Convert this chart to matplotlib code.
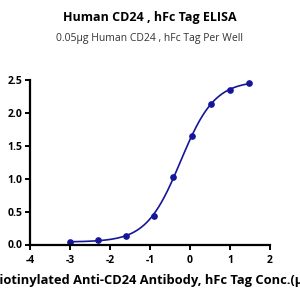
import numpy as np
import matplotlib
matplotlib.use("Agg")
import matplotlib.pyplot as plt

plt.rcParams['font.family'] = ['Open Sans', 'DejaVu Sans']
plt.rcParams['axes.unicode_minus'] = False

# log10 concentration vs OD
log_conc = [-3.0, -2.3, -1.6, -0.9, -0.43, 0.05, 0.52, 1.0, 1.48]
od = [0.045, 0.067, 0.13, 0.44, 1.02, 1.65, 2.13, 2.35, 2.46]

TITLE = "Human CD24 , hFc Tag ELISA"
SUBTITLE = "0.05\u00b5g Human CD24 , hFc Tag Per Well"
XLABEL = "Biotinylated Anti-CD24 Antibody, hFc Tag Conc.(\u00b5g/ml)"
YLABEL = "OD450"
COLOR = "#15159a"


def four_pl(x, p):
    bottom, top, logec50, hill = p
    return bottom + (top - bottom) / (1 + 10 ** ((logec50 - x) * hill))


# simple Gauss-Newton fit of a 4PL curve to the points
x = np.array(log_conc)
y = np.array(od)
p = np.array([0.04, 2.5, -0.3, 1.0])
for _ in range(200):
    r = y - four_pl(x, p)
    J = np.empty((len(x), 4))
    for i in range(4):
        dp = np.zeros(4)
        dp[i] = 1e-6
        J[:, i] = (four_pl(x, p + dp) - four_pl(x, p)) / 1e-6
    step = np.linalg.lstsq(J, r, rcond=None)[0]
    p = p + 0.5 * step

xs = np.linspace(min(log_conc), max(log_conc), 300)

fig = plt.figure(figsize=(3, 3), dpi=100)
ax = fig.add_axes([0.1, 0.185, 0.8, 0.548])
ax.plot(xs, four_pl(xs, p), color=COLOR, lw=1.2)
ax.plot(log_conc, od, 'o', color=COLOR, ms=3.8)

ax.set_xlim(-4, 2)
ax.set_ylim(0, 2.5)
ax.set_xticks([-4, -3, -2, -1, 0, 1, 2])
ax.set_yticks([0, 0.5, 1.0, 1.5, 2.0, 2.5])
ax.set_yticklabels(["0.0", "0.5", "1.0", "1.5", "2.0", "2.5"])
for s in ['top', 'right']:
    ax.spines[s].set_visible(False)
for s in ['left', 'bottom']:
    ax.spines[s].set_linewidth(1.6)
ax.tick_params(width=1.4, length=3.5, labelsize=7.5)
ax.tick_params(axis='x', pad=4)
ax.tick_params(axis='y', pad=2)
for lab in ax.get_xticklabels() + ax.get_yticklabels():
    lab.set_fontweight('bold')

ax.set_xlabel(XLABEL, fontsize=9.3, fontweight='bold')
ax.xaxis.set_label_coords(0.56, -0.18)
ax.set_ylabel(YLABEL, fontsize=9, fontweight='bold')
ax.yaxis.set_label_coords(-0.135, 0.5)

fig.text(0.5, 0.94, TITLE, ha='center', va='center', fontsize=9, fontweight='bold')
fig.text(0.5, 0.873, SUBTITLE, ha='center', va='center', fontsize=7.5, color='#333333')

fig.savefig("out.png", dpi=100)
